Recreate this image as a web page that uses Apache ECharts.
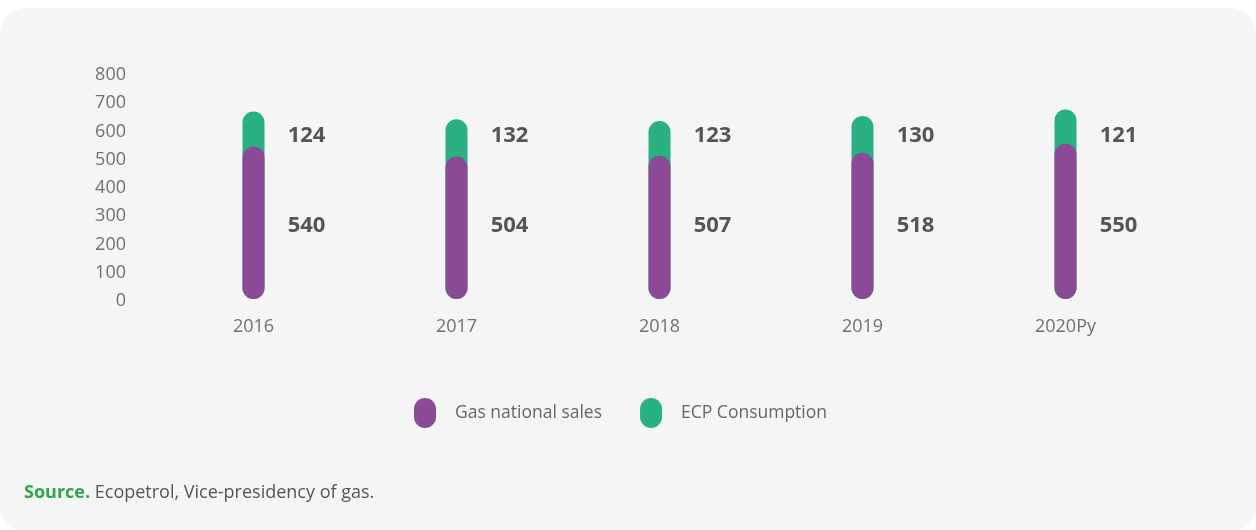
<!DOCTYPE html>
<html>
<head>
<meta charset="utf-8">
<script src="https://cdn.jsdelivr.net/npm/echarts@6/dist/echarts.min.js"></script>
<style>
  html, body { margin: 0; padding: 0; background: #ffffff; }
  #main { width: 1256px; height: 530px; }
</style>
</head>
<body>
<div id="main"></div>
<script>
// data
var years = ['2016', '2017', '2018', '2019', '2020Py'];
var gasSales = [540, 504, 507, 518, 550];
var ecpConsumption = [124, 132, 123, 130, 121];
var yTicks = [0, 100, 200, 300, 400, 500, 600, 700, 800];

// green pill runs from 0 to the total, purple pill drawn over it
var totals = gasSales.map(function (v, i) { return v + ecpConsumption[i]; });

var PURPLE = '#8a4a96';
var GREEN = '#29b182';
var FONT = '"Open Sans", sans-serif';

var myChart = echarts.init(document.getElementById('main'));

var option = {
    backgroundColor: 'transparent',
    textStyle: { fontFamily: FONT },
    graphic: [
        {
            type: 'rect',
            z: -10,
            shape: { x: 0, y: 8, width: 1256, height: 524, r: 26 },
            style: { fill: '#f5f5f5' }
        }
    ],
    title: {
        left: 19,
        top: 479,
        text: '{a|Source.} {b|Ecopetrol, Vice-presidency of gas.}',
        textStyle: {
            rich: {
                a: { color: '#2ea64b', fontSize: 18, fontWeight: 'bold', fontFamily: FONT },
                b: { color: '#555555', fontSize: 18, fontWeight: 'normal', fontFamily: FONT }
            }
        }
    },
    legend: {
        top: 393,
        left: 409,
        itemWidth: 22,
        itemHeight: 30,
        itemGap: 38,
        icon: 'path://M11,0 A11,11 0 0 1 22,11 L22,19 A11,11 0 0 1 11,30 A11,11 0 0 1 0,19 L0,11 A11,11 0 0 1 11,0 Z',
        data: ['Gas national sales', 'ECP Consumption'],
        textStyle: { color: '#666666', fontSize: 17.5, padding: [0, 0, 0, 14] }
    },
    grid: {
        top: 73,
        left: 152,
        right: 89,
        bottom: 231,
        containLabel: false
    },
    xAxis: [
        {
            type: 'category',
            data: years,
            axisLine: { show: false },
            axisTick: { show: false },
            axisLabel: { color: '#707070', fontSize: 18, margin: 19 }
        }
    ],
    yAxis: [
        {
            type: 'value',
            min: yTicks[0],
            max: yTicks[yTicks.length - 1],
            interval: 100,
            splitLine: { show: false },
            axisLine: { show: false },
            axisTick: { show: false },
            axisLabel: {
                color: '#707070',
                fontSize: 18,
                margin: 26,
                formatter: '{v|{value}}',
                rich: { v: { color: '#707070', fontSize: 18, padding: [4, 0, 0, 0] } }
            }
        }
    ],
    series: [
        {
            name: 'ECP Consumption',
            type: 'bar',
            data: totals,
            barWidth: 22,
            barGap: '-100%',
            z: 1,
            itemStyle: { color: GREEN, borderRadius: 11 },
            label: {
                show: true,
                position: [64, '100%'],
                offset: [0, -163],
                align: 'center',
                verticalAlign: 'middle',
                color: '#555555',
                fontSize: 22,
                fontWeight: 'bold',
                formatter: function (p) { return ecpConsumption[p.dataIndex]; }
            }
        },
        {
            name: 'Gas national sales',
            type: 'bar',
            data: gasSales,
            barWidth: 22,
            barGap: '-100%',
            z: 2,
            itemStyle: { color: PURPLE, borderRadius: 11 },
            label: {
                show: true,
                position: [64, '100%'],
                offset: [0, -73],
                align: 'center',
                verticalAlign: 'middle',
                color: '#555555',
                fontSize: 22,
                fontWeight: 'bold'
            }
        }
    ]
};

myChart.setOption(option, true);
</script>
</body>
</html>
